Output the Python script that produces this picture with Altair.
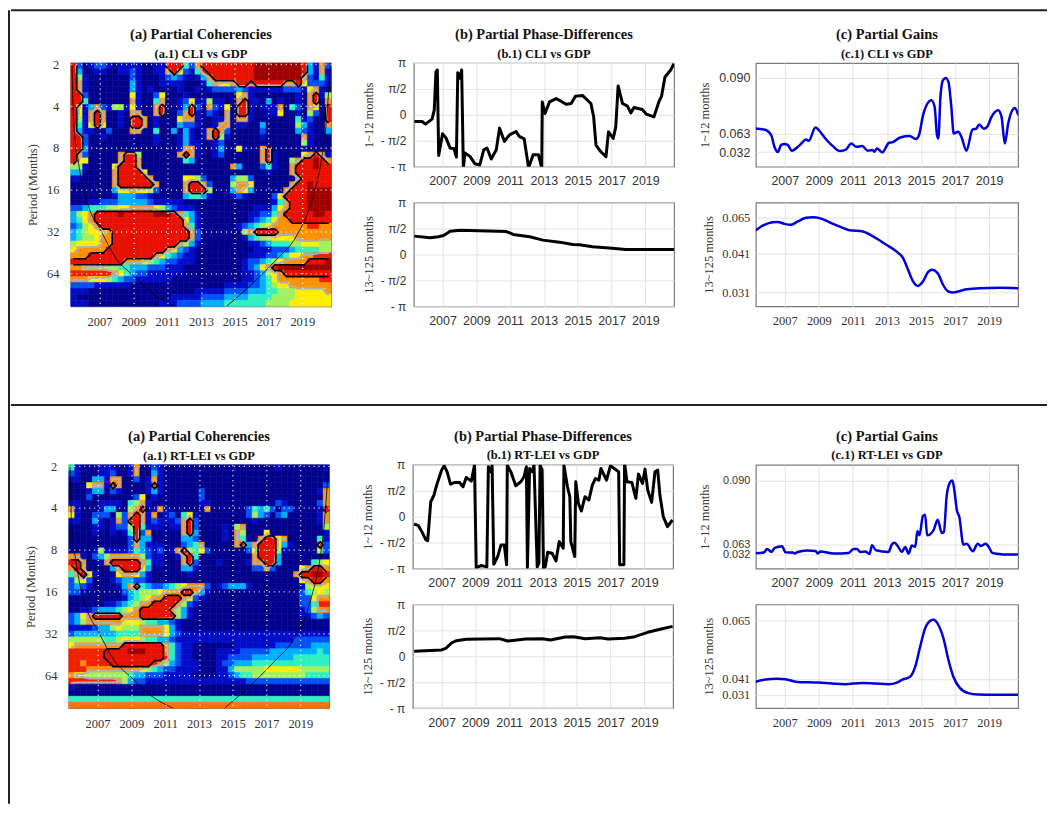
import altair as alt
import pandas as pd

SERIF = "Liberation Serif"
SANS = "Liberation Sans"
TXT = "#333333"
BOX = "#7a7a7a"
XDOM = [2005.3, 2020.7]
LOGDOM = [0.97, 6.79]
YEARS = [2007, 2009, 2011, 2013, 2015, 2017, 2019]

LEVEL_COLORS = {"0": "#00008e", "1": "#000cc8", "2": "#0050f8", "3": "#00b0ff", "4": "#30f0c0",
                "5": "#a0f060", "6": "#ffee00", "7": "#ff9000", "8": "#f02000", "R": "#e81000", "D": "#a00000",
                "O": "#ff7000"}

# Wavelet coherency read cell by cell (level codes, 44 columns x 41 rows)
coh_cli = [
"R201 2210 1111 0011 RRR4 27RR RRRR RRRD DDDD DDDR 3172",
"R300 1100 1121 0011 7R62 148R RRRR RRRD DDDD DDDR 3171",
"R510 0000 0021 0001 2321 0137 RRRR RRRD DDDD DDD7 2141",
"R710 0000 0031 0001 1110 0014 7667 RR8R RRRR 77R6 2221",
"R710 0000 0031 0100 0010 0101 2222 3211 1111 2221 6710",
"RR20 0000 0061 0026 0001 0000 0000 6710 0000 0010 7R15",
"RR40 0000 0071 0047 0012 6115 1100 7R11 0301 0010 7R07",
"R613 7215 5161 007R 0013 R207 2160 RR10 1117 0420 760R",
"R617 R700 1077 007R 0027 R102 1070 RR10 0116 0010 520R",
"R517 R700 10RR 7010 0067 7100 1170 7710 0000 0041 200R",
"R416 R600 10RR 7010 0032 2100 1770 1100 3000 0053 1007",
"R311 0020 0077 0040 0303 1017 R720 0000 2000 0032 1003",
"RR20 0100 0000 0010 0013 1017 R510 0000 1000 0007 1000",
"RR20 0000 0000 0010 0013 1100 1200 0000 0000 0005 1000",
"RR30 0000 0000 0000 0017 7100 1300 6100 7R00 0001 0000",
"R720 0000 7RR5 0000 007R 7100 1200 0000 7R10 0006 7R71",
"R660 0000 7RR7 0000 0004 3000 0000 0000 7R10 057R RDR7",
"5510 0006 RRR7 0000 0000 0000 0007 3000 2410 07RR RDRR",
"3300 0007 RRRR 6000 0000 0000 0000 0000 0100 07RR RRRR",
"1100 0007 RRRR R700 0006 6520 0003 5520 0000 007R RRRR",
"0000 0007 RRRR RR70 0007 RR72 0005 7760 0000 07RR DRRR",
"0000 0003 6676 6520 0007 RRR5 0003 7630 0000 7RRR DDDD",
"0000 0001 3332 2100 0003 4431 0001 2100 0026 RRRR DDDD",
"0001 1222 3333 3211 1110 0000 0000 0000 0014 7RRR DDDD",
"2234 4455 6677 7765 3211 1000 0000 0001 1136 7RRR DDDD",
"3567 RRRR DRRR RRDD DR74 3100 0000 0011 2247 RRRR RDDR",
"3467 RRRR RRRR RRRR RRR6 3100 0000 0012 3467 7RRR RRRR",
"2356 7RRR RRRR RRRR RRR7 4100 0000 1234 5677 7777 8877",
"3456 667R RRRR RRRR RRRR 7200 0000 057R RRR7 7777 7777",
"3455 677R RRRR RRRR RRRR 7200 0000 0134 5566 6677 7777",
"5666 677R RRRR RRRR RR75 3100 0000 0011 2344 4556 6655",
"6777 77RR RRRR RRRR 7632 1000 0000 0001 1122 2344 4455",
"777R RRRR RRRR RR76 4321 1000 0000 0011 1223 4667 7888",
"RRRR RRRR R777 6543 2211 1000 0000 0122 3456 7777 RRRD",
"7766 6655 4433 3222 1110 0000 0000 0123 67RD DDDD DDDD",
"8888 8887 6432 2111 1110 0000 0000 0112 3567 RRRR RRRR",
"7776 6654 3221 1111 1000 0000 0000 0112 3467 7777 7788",
"2222 1111 1100 0000 0000 0000 0011 1122 3456 6777 7777",
"1110 0000 0000 0000 0000 0111 1122 2233 3445 5566 6667",
"1000 0000 0000 0000 0111 1122 2233 3344 4455 5566 6666",
"1110 0000 0000 0001 1122 2233 3344 4444 4555 5666 6666",
]
coh_lei = [
"4100 0111 0017 0021 0000 0000 0000 0000 0001 0000 0001",
"2100 0112 0017 0031 0000 0000 0000 0000 0000 0000 0000",
"1100 3317 7002 0171 0000 0000 0000 0000 0000 0000 0000",
"0006 771R 7000 01R1 0000 0000 0000 0000 0000 0000 0002",
"0001 3302 1000 0131 0000 0020 0000 0000 0000 0000 0017",
"0002 0000 0002 6010 0000 0020 0000 0000 0000 0000 0007",
"1100 0111 1045 7100 0000 0011 0000 0000 0002 1000 0027",
"7100 0133 0057 R017 1000 0007 0000 0024 3420 2200 001R",
"6100 2220 527R 7170 1204 6100 0000 0025 3202 3000 0017",
"1100 3101 72RR 7121 1127 R200 0000 0001 0000 0000 0017",
"0000 1101 225R 4111 0117 R200 0010 5700 0000 0000 0005",
"0000 1001 014R 2700 0007 R300 0010 7500 0600 0000 0001",
"0000 0000 002R 3300 0003 3200 0010 7400 7RR6 7000 0041",
"0000 0000 0027 3111 0002 3470 0000 7R37 RRR6 3100 00R2",
"0000 1511 1124 3212 017R 5462 0000 0026 RRR5 1000 0052",
"7710 2357 7777 5211 0017 R400 0000 0007 RRR3 0000 0000",
"RR70 017R RRRR 7411 0007 R200 0100 0017 7RR3 0000 0456",
"7R70 0003 7RRR 6300 0003 3100 0000 0002 2720 0006 7RR7",
"47R6 1000 6776 3100 0000 1000 0000 0000 0000 007R RDDR",
"2562 0001 2332 2100 0000 0000 0000 0000 0000 0006 7RR7",
"2321 0000 137R 4322 3456 7772 0123 3310 0000 0001 5666",
"2210 0000 0234 5556 777R R731 0000 0000 0000 0002 4565",
"0000 0000 0134 5677 RRR7 6210 0000 0000 0000 0002 2677",
"0000 0011 2345 77RR RR75 2100 0000 0000 0000 0002 2488",
"0011 2333 4567 RRRR R753 1000 0000 0000 0000 0001 2577",
"2367 RRRR R777 RRRR RR53 1000 0000 0000 0000 0001 1232",
"2357 7777 7666 5443 3210 0000 0000 0000 0000 0000 0000",
"1111 2335 6555 7777 6310 0000 0000 0000 0000 0000 0000",
"2333 3333 4444 7777 6321 1111 1111 1111 1111 1111 1111",
"5555 5544 5666 5443 3211 1111 1111 1111 1111 1122 2222",
"6777 7777 7RRR RRRR 7421 1000 0000 1111 1112 2222 2333",
"8888 88RR RRDD DRRR 7421 1000 0111 1222 2233 3333 3343",
"8888 88RR RRRR RRRR 8421 1000 0112 2223 3333 3344 4444",
"8878 888R RRRR RR87 5321 1100 0122 3334 4444 4444 4444",
"8887 7777 7777 6543 2211 1100 0113 5555 5666 6665 5555",
"7665 5555 5543 3222 1111 1000 0112 3445 5555 5555 4444",
"8888 8888 7532 2111 1111 1111 1111 1122 2222 2222 2222",
"1000 0000 0000 0000 0000 0000 0000 0000 0000 0000 0000",
"0000 0000 0000 0000 0000 0000 0000 0000 0000 0000 0000",
"4444 4444 4444 4444 4444 4444 4444 4444 4444 4444 4444",
"OOOO OOOO OOOO OOOO OOOO OOOO OOOO OOOO OOOO OOOO OOOO",
]

# Cone of influence
cone_left_year = [2005.37, 2005.46, 2005.76, 2006.35, 2007.04, 2008.02, 2009.01, 2010.19, 2011.47]
cone_left_log = [0.98, 2.33, 3.37, 4.40, 4.95, 5.67, 6.06, 6.50, 6.79]
cone_right_year = [2014.52, 2015.90, 2017.47, 2018.65, 2019.64, 2020.13, 2020.43, 2020.66]
cone_right_log = [6.79, 6.30, 5.67, 5.11, 4.16, 3.29, 2.33, 0.97]

# Phase differences, in units of pi
ph_cli_s_year = [2005.34, 2005.79, 2005.99, 2006.38, 2006.51, 2006.61, 2006.69, 2006.77, 2007.0, 2007.21, 2007.45, 2007.68, 2007.82, 2007.90, 2008.03, 2008.13, 2008.23, 2008.33, 2008.62, 2008.91, 2009.20, 2009.44, 2009.63, 2009.88, 2010.18, 2010.37, 2010.66, 2010.96, 2011.35, 2011.54, 2011.83, 2012.09, 2012.36, 2012.67, 2012.87, 2012.90, 2013.06, 2013.33, 2013.73, 2014.31, 2014.61, 2014.86, 2015.29, 2015.78, 2015.94, 2016.08, 2016.37, 2016.67, 2016.82, 2017.10, 2017.25, 2017.39, 2017.65, 2017.94, 2018.14, 2018.33, 2018.82, 2019.06, 2019.51, 2019.80, 2019.96, 2020.16, 2020.49, 2020.69]
ph_cli_s = [-.128, -.128, -.179, -.083, .096, .833, .865, -.782, -.365, -.449, -.641, -.654, -.814, .814, .705, .865, -1.02, -.737, -.801, -.942, -.968, -.673, -.641, -.853, -.673, -.256, -.513, -.385, -.321, -.417, -.462, -1.02, -.769, -.769, -1.02, .25, .026, .25, .314, .205, .218, .359, .372, .218, -.038, -.583, -.712, -.808, -.327, -.455, -.231, .558, .218, .167, .038, .141, .103, .013, -.038, .25, .359, .731, .859, .987]
ph_cli_l_year = [2005.33, 2006.27, 2006.76, 2007.06, 2007.45, 2008.04, 2010.78, 2011.18, 2012.16, 2012.94, 2013.92, 2014.71, 2015.10, 2015.88, 2016.86, 2017.84, 2018.82, 2020.69]
ph_cli_l = [.353, .32, .34, .365, .449, .468, .442, .385, .34, .276, .237, .192, .186, .147, .122, .096, .096, .096]
ph_lei_s_year = [2005.38, 2005.63, 2005.83, 2006.08, 2006.18, 2006.36, 2006.55, 2006.71, 2007.0, 2007.16, 2007.33, 2007.53, 2007.78, 2008.07, 2008.27, 2008.46, 2008.76, 2008.95, 2009.05, 2009.34, 2009.68, 2009.77, 2009.93, 2009.99, 2010.09, 2010.32, 2010.52, 2010.71, 2010.85, 2010.89, 2011.10, 2011.39, 2011.69, 2011.88, 2012.02, 2012.08, 2012.21, 2012.37, 2012.47, 2012.66, 2012.76, 2012.83, 2012.95, 2013.03, 2013.14, 2013.28, 2013.54, 2013.77, 2013.96, 2014.2, 2014.24, 2014.45, 2014.59, 2014.65, 2014.88, 2014.94, 2015.1, 2015.27, 2015.49, 2015.72, 2015.92, 2016.11, 2016.31, 2016.43, 2016.76, 2016.99, 2017.48, 2017.54, 2017.79, 2017.83, 2017.97, 2018.26, 2018.5, 2018.65, 2018.89, 2019.04, 2019.2, 2019.43, 2019.63, 2019.79, 2019.92, 2020.12, 2020.37, 2020.66]
ph_lei_s = [-.141, -.173, -.288, -.449, -.462, .288, .417, .609, .897, .981, .865, .628, .66, .66, .577, .756, .686, .994, -.981, -.942, -.968, .962, .865, .994, -.917, -.769, -.545, -.545, -.929, .994, .865, .596, .673, .769, .962, -.981, .929, .865, .994, -.968, -.897, .994, .9, -1.0, -.962, -.686, -.705, -.853, -.481, -.609, .994, .577, .385, -.481, -.769, .673, .256, .109, .385, .321, .609, .737, .705, .929, .705, .981, .865, -.929, -.929, 1.03, .673, .66, .353, .821, .641, .917, .513, .276, .865, .897, .417, 0, -.192, -.064]
ph_lei_l_year = [2005.38, 2007.0, 2007.25, 2007.59, 2007.88, 2008.46, 2010.42, 2010.91, 2011.98, 2012.96, 2013.45, 2014.32, 2014.81, 2015.5, 2016.38, 2016.86, 2017.84, 2018.43, 2019.2, 2019.99, 2020.67]
ph_lei_l = [.096, .122, .154, .256, .301, .327, .34, .295, .333, .34, .314, .372, .378, .34, .359, .333, .346, .378, .462, .526, .577]

# Gains
g_cli_s_year = [2005.27, 2005.80, 2006.20, 2006.39, 2006.59, 2006.78, 2006.98, 2007.18, 2007.41, 2007.86, 2008.25, 2008.41, 2008.80, 2009.00, 2009.33, 2009.82, 2010.25, 2010.61, 2010.90, 2011.20, 2011.55, 2011.88, 2012.14, 2012.27, 2012.41, 2012.73, 2013.12, 2013.35, 2013.78, 2014.33, 2014.69, 2014.88, 2015.12, 2015.41, 2015.61, 2015.80, 2015.94, 2016.02, 2016.14, 2016.29, 2016.45, 2016.61, 2016.78, 2016.92, 2017.18, 2017.37, 2017.67, 2018.02, 2018.25, 2018.41, 2018.69, 2018.88, 2019.14, 2019.53, 2019.73, 2019.92, 2020.12, 2020.51, 2020.71]
g_cli_s = [.0654, .0649, .0602, .0408, .032, .0436, .0453, .0436, .0342, .0431, .0530, .0508, .0659, .0646, .0564, .0419, .0336, .0364, .0464, .0408, .0419, .0342, .0353, .0326, .0381, .0314, .0475, .0486, .0564, .0586, .0536, .0602, .0719, .0780, .0792, .0759, .0602, .0547, .0808, .0889, .0900, .0881, .0759, .0630, .0638, .0575, .0342, .0649, .0654, .0674, .0653, .0662, .0711, .0743, .0711, .0464, .0679, .0754, .0719]
g_cli_l_year = [2005.27, 2005.80, 2006.29, 2006.59, 2006.98, 2007.37, 2007.76, 2008.25, 2008.65, 2009.14, 2009.73, 2010.31, 2010.80, 2011.59, 2012.18, 2012.96, 2013.55, 2013.94, 2014.24, 2014.53, 2014.82, 2015.12, 2015.41, 2015.65, 2016.0, 2016.29, 2016.59, 2016.88, 2017.67, 2018.45, 2019.63, 2020.71]
g_cli_l = [.0564, .0602, .0619, .0621, .0608, .0602, .0624, .0648, .0652, .0643, .0613, .0586, .0566, .0558, .0525, .0470, .0426, .0399, .0368, .0338, .0326, .0338, .0362, .0368, .0358, .0329, .0312, .0309, .0317, .0320, .0321, .0320]
g_lei_s_year = [2005.24, 2005.77, 2005.96, 2006.22, 2006.41, 2006.84, 2007.04, 2007.47, 2007.59, 2007.72, 2008.31, 2008.80, 2008.95, 2009.09, 2009.87, 2010.75, 2011.04, 2011.24, 2011.43, 2011.73, 2011.98, 2012.12, 2012.35, 2013.09, 2013.29, 2013.45, 2013.64, 2013.88, 2014.07, 2014.27, 2014.46, 2014.66, 2014.79, 2014.91, 2015.11, 2015.24, 2015.36, 2015.73, 2015.98, 2016.22, 2016.34, 2016.51, 2016.71, 2016.84, 2016.96, 2017.10, 2017.25, 2017.49, 2017.68, 2018.04, 2018.33, 2018.52, 2018.80, 2018.95, 2019.19, 2019.54, 2019.93, 2020.7]
g_lei_s = [.0361, .0382, .0496, .0403, .0527, .0578, .0392, .0382, .0351, .0392, .0444, .0434, .0351, .0413, .0351, .0372, .0496, .0496, .0403, .0413, .0341, .0609, .0454, .0403, .0631, .0638, .0578, .0403, .0558, .0351, .0599, .0558, .0687, .0669, .0750, .0756, .0669, .0690, .0735, .0679, .0683, .0837, .0893, .0900, .0858, .0777, .0746, .0630, .0634, .0423, .0634, .0589, .0634, .0578, .0372, .0341, .0320, .0320]
g_lei_l_year = [2005.24, 2005.87, 2006.55, 2007.04, 2007.72, 2008.99, 2009.77, 2010.55, 2011.53, 2012.31, 2013.09, 2013.58, 2013.88, 2014.36, 2014.66, 2014.95, 2015.24, 2015.54, 2015.73, 2016.02, 2016.32, 2016.61, 2016.90, 2017.29, 2017.78, 2018.37, 2019.34, 2020.7]
g_lei_l = [.0391, .0406, .0411, .0408, .0391, .0387, .0381, .0377, .0385, .0381, .0377, .0387, .0404, .0419, .0460, .0542, .0616, .0647, .0651, .0630, .0575, .0487, .0419, .0352, .0321, .0312, .0310, .0310]


def num(ch):
    if ch in "RD":
        return 9
    if ch == "O":
        return 5
    return int(ch)


def contour(grid, fn, t):
    """Marching squares over the cell centres of a coded grid."""
    nr, nc = len(grid), len(grid[0])
    dx = (XDOM[1] - XDOM[0]) / nc
    dy = (LOGDOM[1] - LOGDOM[0]) / nr
    segs = []
    for j in range(nr - 1):
        for i in range(nc - 1):
            a, b = fn(grid[j][i]), fn(grid[j][i + 1])
            c, d = fn(grid[j + 1][i + 1]), fn(grid[j + 1][i])
            pts = []
            corners = [(i, j, a), (i + 1, j, b), (i + 1, j + 1, c), (i, j + 1, d)]
            for k in range(4):
                x0, y0, v0 = corners[k]
                x1, y1, v1 = corners[(k + 1) % 4]
                if (v0 > t) != (v1 > t):
                    f = (t - v0) / (v1 - v0)
                    pts.append((x0 + f * (x1 - x0), y0 + f * (y1 - y0)))
            for m in range(0, len(pts) - 1, 2):
                (px, py), (qx, qy) = pts[m], pts[m + 1]
                segs.append({"x": XDOM[0] + (px + .5) * dx, "y": LOGDOM[0] + (py + .5) * dy,
                             "x2": XDOM[0] + (qx + .5) * dx, "y2": LOGDOM[0] + (qy + .5) * dy})
    return pd.DataFrame(segs)


def title_params(t, s, off):
    return alt.TitleParams(text=t, subtitle=s, font=SERIF, fontSize=14.5, fontWeight="bold", color="#111111",
                           subtitleFont=SERIF, subtitleFontSize=12.5, subtitleFontWeight="bold",
                           subtitleColor="#111111", subtitlePadding=5, anchor="middle", offset=off, frame="group")


def coherency(rows, title, sub, w, h):
    grid = ["".join(r.split()).ljust(44, "0")[:44] for r in rows]
    nr, nc = len(grid), 44
    dx = (XDOM[1] - XDOM[0]) / nc
    dy = (LOGDOM[1] - LOGDOM[0]) / nr
    cells = [{"x": XDOM[0] + i * dx, "x2": XDOM[0] + (i + 1) * dx,
              "y": LOGDOM[0] + j * dy, "y2": LOGDOM[0] + (j + 1) * dy, "lv": grid[j][i]}
             for j in range(nr) for i in range(nc)]
    xs = alt.Scale(domain=XDOM, nice=False, zero=False)
    ys = alt.Scale(domain=[LOGDOM[1], LOGDOM[0]], nice=False, zero=False)
    keys = list(LEVEL_COLORS)
    colr = alt.Scale(domain=keys, range=[LEVEL_COLORS[k] for k in keys])
    xax = alt.Axis(values=YEARS, format="d", title=None, grid=True, gridColor="white", gridDash=[1, 4],
                   gridWidth=1.3, gridOpacity=1, ticks=False, domain=False, labelFont=SERIF, labelFontSize=12.5,
                   labelColor=TXT, labelPadding=9, zindex=1, labelAngle=0)
    yax = alt.Axis(values=[1, 2, 3, 4, 5, 6], labelExpr="pow(2, datum.value)", title="Period (Months)", grid=True,
                   gridColor="white", gridDash=[1, 4], gridWidth=1.3, gridOpacity=1, ticks=False, domain=False,
                   labelFont=SERIF, labelFontSize=12.5, labelColor=TXT, labelPadding=12, titleFont=SERIF,
                   titleFontSize=12.5, titleFontWeight="normal", titleColor=TXT, minExtent=22, maxExtent=22,
                   titlePadding=9, zindex=1)
    X = alt.X("x:Q", scale=xs, axis=xax)
    Y = alt.Y("y:Q", scale=ys, axis=yax)
    base = alt.Chart(pd.DataFrame(cells)).mark_rect(strokeWidth=0.6).encode(
        x=X, x2="x2:Q", y=Y, y2="y2:Q",
        color=alt.Color("lv:N", scale=colr, legend=None),
        stroke=alt.Stroke("lv:N", scale=colr, legend=None))
    gray = alt.Chart(contour(grid, num, 6.5)).mark_rule(color="#b0b0b0", strokeWidth=2, strokeCap="round").encode(
        x=X, x2="x2:Q", y=Y, y2="y2:Q")
    black = alt.Chart(contour(grid, lambda c: 1.0 if c in "RD" else 0.0, 0.5)).mark_rule(
        color="black", strokeWidth=1.6, strokeCap="round").encode(x=X, x2="x2:Q", y=Y, y2="y2:Q")
    cone_df = pd.DataFrame({"x": cone_left_year + cone_right_year, "y": cone_left_log + cone_right_log,
                            "s": ["l"] * len(cone_left_year) + ["r"] * len(cone_right_year)})
    cone = alt.Chart(cone_df).mark_line(color="black", strokeWidth=0.8, clip=True, interpolate="monotone").encode(
        x=X, y=Y, detail="s:N")
    return alt.layer(base, gray, black, cone).properties(
        width=w, height=h, view=alt.ViewBackground(stroke=BOX, strokeWidth=1.2),
        title=title_params(title, sub, -3))


def xaxis(font, size):
    return alt.Axis(values=YEARS, format="d", title=None, grid=True, gridColor="#e2e2e2", gridWidth=1,
                    ticks=False, domain=False, labelFont=font, labelFontSize=size, labelColor=TXT,
                    labelPadding=8, labelAngle=0)


def phase(years, vals, ytitle, w, h, title=None):
    df = pd.DataFrame({"x": years, "y": vals})
    yax = alt.Axis(values=[-1, -.5, 0, .5, 1], grid=True, gridColor="#e2e2e2", gridWidth=1, ticks=False, domain=False,
                   labelExpr="datum.value==1?'π':datum.value==0.5?'π/2':datum.value==0?'0':datum.value==-0.5?'- π/2':'- π'",
                   labelFont=SANS, labelFontSize=12, labelColor=TXT, labelPadding=8, title=ytitle, titleFont=SERIF,
                   titleFontSize=12.5, titleFontWeight="normal", titleColor=TXT, minExtent=36, maxExtent=36,
                   titlePadding=2, labelOverlap=False)
    c = alt.Chart(df).mark_line(color="black", strokeWidth=3, clip=True, strokeJoin="round").encode(
        x=alt.X("x:Q", scale=alt.Scale(domain=XDOM, nice=False, zero=False), axis=xaxis(SANS, 12.5)),
        y=alt.Y("y:Q", scale=alt.Scale(domain=[-1, 1], nice=False, zero=False), axis=yax))
    props = dict(width=w, height=h, view=alt.ViewBackground(stroke=BOX, strokeWidth=1.2))
    if title:
        props["title"] = title
    return c.properties(**props)


def gain(years, vals, ticks, dom, rng, ytitle, font, extent, w, h, title=None, label_size=12.5):
    df = pd.DataFrame({"x": years, "y": vals})
    yax = alt.Axis(values=ticks, format=".3f", grid=True, gridColor="#e2e2e2", gridWidth=1, ticks=False, domain=False,
                   labelFont=font, labelFontSize=label_size, labelColor=TXT, labelPadding=6, title=ytitle, titleFont=SERIF,
                   titleFontSize=12.5, titleFontWeight="normal", titleColor=TXT, minExtent=extent, maxExtent=extent,
                   titlePadding=5, labelOverlap=False)
    c = alt.Chart(df).mark_line(color="#0000d8", strokeWidth=2.5, clip=True, interpolate="monotone").encode(
        x=alt.X("x:Q", scale=alt.Scale(domain=XDOM, nice=False, zero=False), axis=xaxis(font, 12.5)),
        y=alt.Y("y:Q", scale=alt.Scale(domain=dom, range=rng, nice=False, zero=False), axis=yax))
    props = dict(width=w, height=h, view=alt.ViewBackground(stroke=BOX, strokeWidth=1.2))
    if title:
        props["title"] = title
    return c.properties(**props)


ONE = pd.DataFrame({"a": [0]})


def blank(w, h):
    return alt.Chart(ONE).mark_rule(opacity=0).encode(x=alt.value(0), y=alt.value(0)).properties(width=w, height=h)


def hline(w):
    return alt.Chart(ONE).mark_rule(color="#222222", strokeWidth=2).encode(
        x=alt.value(0), x2=alt.value(w), y=alt.value(0)).properties(width=w, height=1)


def vline(h):
    return alt.Chart(ONE).mark_rule(color="#222222", strokeWidth=2).encode(
        x=alt.value(0), y=alt.value(0), y2=alt.value(h)).properties(width=1, height=h)


def row(coh, name, ph_s, ph_l, g_s, g_l, pad, gap1, gap2):
    a = coherency(coh, "(a) Partial Coherencies", "(a.1) %s vs GDP" % name, 261, 244)
    b = alt.vconcat(
        phase(ph_s[0], ph_s[1], "1~12 months", 261, 104,
              title_params("(b) Partial Phase-Differences", "(b.1) %s vs GDP" % name, -4)),
        phase(ph_l[0], ph_l[1], "13~125 months", 261, 104), spacing=36, bounds="flush")
    c = alt.vconcat(g_s, g_l, spacing=36, bounds="flush")
    return alt.hconcat(blank(pad, 1), a, blank(gap1, 1), b, blank(gap2, 1), c, spacing=0)


gain_cli_s = gain(g_cli_s_year, g_cli_s, [.032, .063, .09], [.0076, .032, .063, .09, .0973], [104, 89.3, 70.7, 15, 0],
                  "1~12 months", SANS, 39, 263, 104,
                  title_params("(c) Partial Gains", "(c.1) CLI vs GDP", 2))
gain_cli_l = gain(g_cli_l_year, g_cli_l, [.031, .041, .065], [.0273, .031, .041, .065, .0749], [104, 89.7, 51.3, 15, 0],
                  "13~125 months", SERIF, 35, 263, 104)
gain_lei_s = gain(g_lei_s_year, g_lei_s, [.032, .063, .09], [-.0135, .032, .063, .09, .0966], [104, 90, 80, 15.7, 0],
                  "1~12 months", SANS, 39, 263, 104,
                  title_params("(c) Partial Gains", "(c.1) RT-LEI vs GDP", 2), label_size=11)
gain_lei_l = gain(g_lei_l_year, g_lei_l, [.031, .041, .065], [.0221, .031, .041, .065, .0714], [104, 90.7, 74.7, 15.7, 0],
                  "13~125 months", SERIF, 35, 263, 104)

row1 = row(coh_cli, "CLI", (ph_cli_s_year, ph_cli_s), (ph_cli_l_year, ph_cli_l), gain_cli_s, gain_cli_l, 15, 30, 23)
row2 = row(coh_lei, "RT-LEI", (ph_lei_s_year, ph_lei_s), (ph_lei_l_year, ph_lei_l), gain_lei_s, gain_lei_l, 13, 31, 24)

W = 1039
main = alt.vconcat(hline(W), blank(W, 15), row1, blank(W, 75), hline(W), blank(W, 22), row2, spacing=0)
chart = alt.hconcat(vline(796), main, spacing=0).properties(padding=0).configure_view(stroke=None)
chart.save("out.html", embed_options={"renderer": "svg", "actions": False})
